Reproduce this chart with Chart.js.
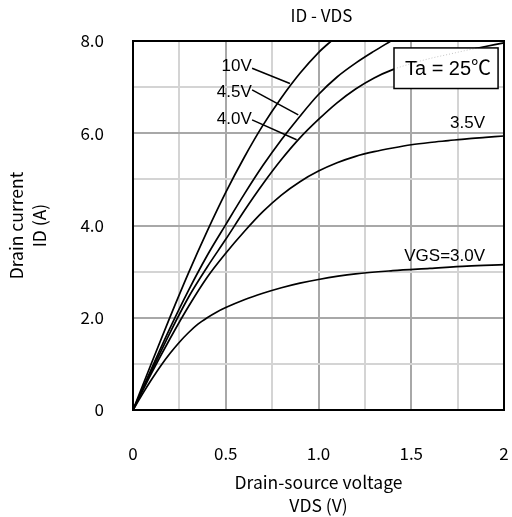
<!DOCTYPE html>
<html>
<head>
<meta charset="utf-8">
<script src="https://cdn.jsdelivr.net/npm/chart.js@4.4.1/dist/chart.umd.min.js"></script>
<style>
	html, body { margin: 0; padding: 0; background: #fff; }
	#wrap { width: 512px; height: 517px; }
</style>
</head>
<body>
<div id="wrap"><canvas id="idvds" width="512" height="517"></canvas></div>
<script>
// ID - VDS curves, one pair of arrays per gate voltage
var vds10 = [0, 0.1, 0.2, 0.3, 0.4, 0.5, 0.6, 0.7, 0.8, 0.9, 1.0, 1.08];
var id10  = [0, 1.02, 2.02, 2.98, 3.88, 4.72, 5.48, 6.17, 6.77, 7.3, 7.75, 8.04];

var vds45 = [0, 0.1, 0.2, 0.3, 0.4, 0.5, 0.6, 0.7, 0.8, 0.9, 1.0, 1.1, 1.2, 1.3, 1.39];
var id45  = [0, 0.9, 1.78, 2.6, 3.35, 4.02, 4.68, 5.3, 5.86, 6.37, 6.84, 7.22, 7.52, 7.78, 8.0];

var vds40 = [0, 0.1, 0.2, 0.3, 0.4, 0.5, 0.6, 0.7, 0.8, 0.9, 1.0, 1.1, 1.2, 1.3, 1.4, 1.5, 1.6, 1.7, 1.8, 1.9, 2.0];
var id40  = [0, 0.85, 1.68, 2.45, 3.1, 3.7, 4.32, 4.9, 5.43, 5.9, 6.3, 6.66, 6.96, 7.2, 7.38, 7.51, 7.62, 7.71, 7.8, 7.88, 7.96];

var vds35 = [0, 0.1, 0.2, 0.3, 0.4, 0.5, 0.6, 0.7, 0.8, 0.9, 1.0, 1.1, 1.2, 1.3, 1.4, 1.5, 1.6, 1.7, 1.8, 1.9, 2.0];
var id35  = [0, 0.8, 1.55, 2.25, 2.88, 3.4, 3.87, 4.3, 4.66, 4.95, 5.18, 5.36, 5.5, 5.6, 5.68, 5.75, 5.8, 5.84, 5.88, 5.91, 5.94];

var vds30 = [0, 0.05, 0.1, 0.15, 0.2, 0.25, 0.3, 0.35, 0.4, 0.45, 0.5, 0.6, 0.7, 0.8, 0.9, 1.0, 1.2, 1.4, 1.6, 1.8, 2.0];
var id30  = [0, 0.34, 0.66, 0.96, 1.23, 1.47, 1.68, 1.86, 2.0, 2.12, 2.22, 2.39, 2.53, 2.65, 2.75, 2.83, 2.95, 3.02, 3.07, 3.12, 3.15];

var xTickValues = [0, 0.5, 1, 1.5, 2];
var xTickLabels = ['0', '0.5', '1.0', '1.5', '2'];
var yTickValues = [0, 2, 4, 6, 8];
var yTickLabels = ['0', '2.0', '4.0', '6.0', '8.0'];

var curveNames = ['10V', '4.5V', '4.0V', '3.5V', 'VGS=3.0V'];

var jpFont = '"Noto Sans CJK JP", "Noto Sans", sans-serif';
var labelFont = '"Liberation Sans", Arial, "Noto Sans CJK JP", sans-serif';

function pts(xs, ys) {
	var out = [];
	for (var i = 0; i < xs.length; i++) out.push({x: xs[i], y: ys[i]});
	return out;
}

function curve(name, xs, ys) {
	return {
		label: name,
		data: pts(xs, ys),
		borderColor: '#000',
		borderWidth: 1.7,
		pointRadius: 0,
		fill: false,
		cubicInterpolationMode: 'monotone'
	};
}

// where the curve labels, leaders and the temperature box sit (data units)
var notes = [
	{ text: curveNames[0], x: 0.64, y: 7.34, from: [0.642, 7.41], to: [0.846, 7.08] },
	{ text: curveNames[1], x: 0.64, y: 6.78, from: [0.642, 6.94], to: [0.891, 6.40] },
	{ text: curveNames[2], x: 0.64, y: 6.20, from: [0.642, 6.29], to: [0.882, 5.86] },
	{ text: curveNames[3], x: 1.898, y: 6.11 },
	{ text: curveNames[4], x: 1.898, y: 3.22 }
];
var tempBox = { text: 'Ta = 25\u2103', x0: 1.407, x1: 1.968, y0: 7.85, y1: 6.97 };

var gridColor = function(step) {
	return function(c) {
		var v = c.tick ? c.tick.value : 0;
		return Math.abs(v % step) < 1e-9 ? '#a8a8a8' : '#d4d4d4';
	};
};

var decorations = {
	id: 'decorations',
	afterDatasetsDraw: function(chart) {
		var ctx = chart.ctx, xs = chart.scales.x, ys = chart.scales.y, a = chart.chartArea;
		ctx.save();
		// leaders and curve labels
		ctx.strokeStyle = '#000';
		ctx.lineWidth = 1.5;
		ctx.fillStyle = '#000';
		ctx.font = '17px ' + labelFont;
		ctx.textAlign = 'right';
		ctx.textBaseline = 'alphabetic';
		notes.forEach(function(n) {
			if (n.from) {
				ctx.beginPath();
				ctx.moveTo(xs.getPixelForValue(n.from[0]), ys.getPixelForValue(n.from[1]));
				ctx.lineTo(xs.getPixelForValue(n.to[0]), ys.getPixelForValue(n.to[1]));
				ctx.stroke();
			}
			ctx.fillText(n.text, xs.getPixelForValue(n.x), ys.getPixelForValue(n.y));
		});

		// temperature box over the 4.0V curve, which shows through faintly
		var bx = xs.getPixelForValue(tempBox.x0), bx1 = xs.getPixelForValue(tempBox.x1);
		var by = ys.getPixelForValue(tempBox.y0), by1 = ys.getPixelForValue(tempBox.y1);
		ctx.fillStyle = '#fff';
		ctx.fillRect(bx, by, bx1 - bx, by1 - by);
		ctx.save();
		ctx.beginPath();
		ctx.rect(bx, by, bx1 - bx, by1 - by);
		ctx.clip();
		ctx.setLineDash([1, 2]);
		ctx.strokeStyle = '#c4c4c4';
		ctx.lineWidth = 1;
		ctx.beginPath();
		chart.getDatasetMeta(2).dataset.path(ctx);
		ctx.stroke();
		ctx.restore();
		ctx.strokeStyle = '#000';
		ctx.lineWidth = 1.5;
		ctx.strokeRect(bx, by, bx1 - bx, by1 - by);
		ctx.fillStyle = '#000';
		ctx.font = '20px ' + labelFont;
		ctx.textAlign = 'center';
		ctx.textBaseline = 'middle';
		ctx.fillText(tempBox.text, (bx + bx1) / 2 + 2, (by + by1) / 2 + 1);

		// frame around the plot
		ctx.lineWidth = 2;
		ctx.strokeRect(a.left, a.top, a.right - a.left, a.bottom - a.top);

		// chart title
		ctx.font = '17px ' + jpFont;
		ctx.fillText('ID - VDS', (a.left + a.right) / 2 + 3, 16);
		ctx.restore();
	}
};

var ctx = document.getElementById('idvds').getContext('2d');
var chart = new Chart(ctx, {
	type: 'line',
	data: {
		datasets: [
			curve('10V', vds10, id10),
			curve('4.5V', vds45, id45),
			curve('4.0V', vds40, id40),
			curve('3.5V', vds35, id35),
			curve('3.0V', vds30, id30)
		]
	},
	options: {
		responsive: false,
		animation: false,
		layout: { padding: { top: 41, right: 8, left: 0, bottom: 0 } },
		plugins: {
			legend: { display: false },
			tooltip: { enabled: false }
		},
		scales: {
			x: {
				type: 'linear',
				min: 0,
				max: 2,
				ticks: {
					stepSize: 0.25,
					autoSkip: false,
					maxRotation: 0,
					padding: 33,
					color: '#000',
					font: { family: jpFont, size: 17 },
					callback: function(v) {
						var i = xTickValues.indexOf(v);
						return i < 0 ? '' : xTickLabels[i];
					}
				},
				grid: { color: gridColor(0.5), lineWidth: 2, drawTicks: false },
				border: { color: '#000', width: 2 },
				title: {
					display: true,
					text: ['Drain-source voltage', 'VDS (V)'],
					color: '#000',
					font: { family: jpFont, size: 17.5, lineHeight: 1.32 },
					padding: { top: 0, bottom: 0 }
				},
				afterFit: function(s) {
					s.height = 107;
					s.paddingLeft = 0;
					s.paddingRight = 0;
				}
			},
			y: {
				type: 'linear',
				min: 0,
				max: 8,
				ticks: {
					stepSize: 1,
					autoSkip: false,
					padding: 29,
					color: '#000',
					font: { family: jpFont, size: 17 },
					callback: function(v) {
						var i = yTickValues.indexOf(v);
						return i < 0 ? '' : yTickLabels[i];
					}
				},
				grid: { color: gridColor(2), lineWidth: 2, drawTicks: false },
				border: { color: '#000', width: 2 },
				title: {
					display: true,
					text: ['Drain current', 'ID (A)'],
					color: '#000',
					font: { family: jpFont, size: 17.5, lineHeight: 1.32 },
					padding: { top: 5, bottom: 0 }
				},
				afterFit: function(s) {
					s.width = 133;
					s.paddingTop = 0;
					s.paddingBottom = 0;
				}
			}
		}
	},
	plugins: [decorations]
});
</script>
</body>
</html>
